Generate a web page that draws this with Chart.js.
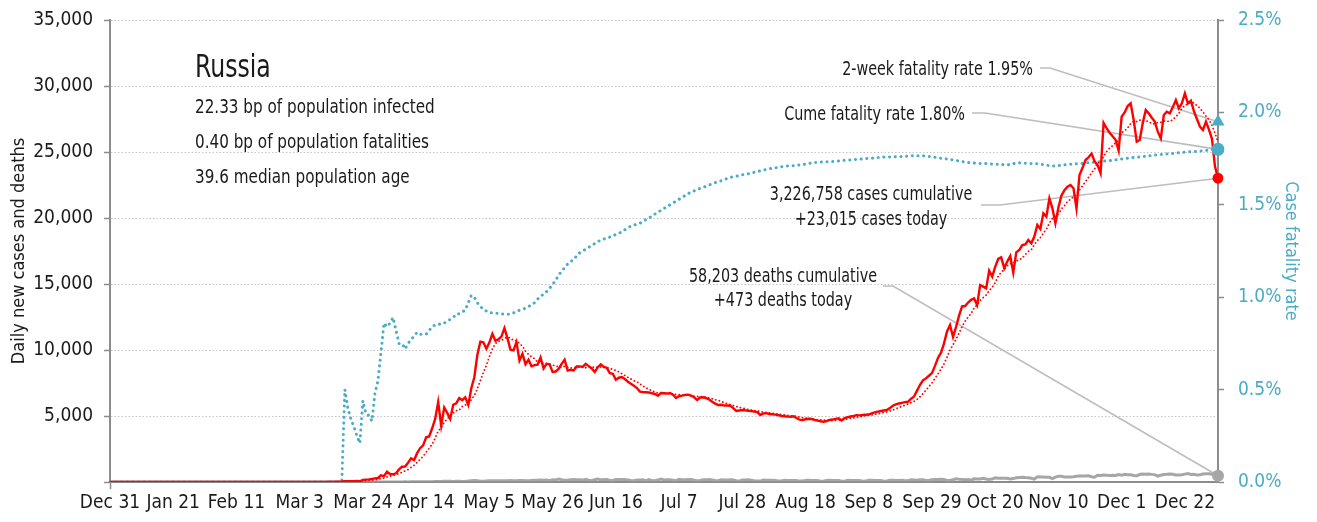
<!DOCTYPE html>
<html lang="en">
<head>
<meta charset="UTF-8">
<title>Russia</title>
<script src="https://cdn.jsdelivr.net/npm/chart.js"></script>
<style>
  html, body { margin: 0; padding: 0; background: #fff; }
</style>
</head>
<body>
<canvas id="chart" width="1317" height="522"></canvas>

<script>
// daily new cases, one row per month (first row starts Dec 31 2019)
const dailyCases = [
  0,0,0,0,0,0,0,0,0,0,0,0,0,0,0,0,0,0,0,0,0,0,0,0,0,0,0,0,0,0,2,0,
  0,0,0,0,0,0,0,0,0,0,0,0,0,0,0,0,0,0,0,0,0,0,0,0,0,0,0,0,0,
  1,0,0,1,6,0,3,0,3,8,6,11,14,4,30,21,33,52,54,53,61,71,57,163,182,196,228,270,302,500,440,
  771,601,582,658,954,1154,1175,1459,1786,1667,2186,2558,2774,3388,3448,4070,4785,6060,4268,5642,5236,4774,5849,5966,6361,6198,6411,5841,7099,7933,
  9623,10633,10581,10102,10559,11231,10699,10817,11012,11656,10899,10028,9974,10598,9200,9709,8926,9263,8764,8849,8894,9434,8599,8946,8915,8338,8371,8572,8952,9268,8450,
  8500,8450,8750,8760,8720,8950,8780,8600,8330,8700,8910,8720,8650,8250,8200,7750,7900,7950,7800,7600,7450,7300,7120,6850,6820,6800,6780,6720,6670,6540,
  6740,6720,6700,6740,6610,6360,6500,6540,6600,6620,6540,6420,6210,6400,6420,6360,6250,6080,5940,5830,5850,5790,5800,5780,5600,5380,5420,5450,5430,5400,5380,
  5330,5300,5080,5200,5220,5150,5130,5100,5060,5000,4980,4950,4940,4980,4850,4720,4700,4750,4790,4770,4700,4650,4600,4570,4620,4700,4730,4780,4830,4660,4850,
  4920,4960,5000,5060,5050,5080,5100,5110,5200,5280,5330,5380,5420,5450,5600,5780,5880,5950,6000,6050,6080,6300,6460,6900,7350,7700,7850,8050,8250,8800,
  9400,9800,10500,11400,11890,10980,11750,12600,13300,13330,13600,13800,13910,13400,14920,14800,14670,16000,15560,16300,16900,17020,16190,16700,17120,15860,17400,17580,17950,18000,18330,
  18080,18590,19470,19170,20350,20100,21490,20730,19600,20800,21700,22100,22370,22500,22250,20730,23260,23800,24390,24600,24880,24300,24000,23390,27200,26800,26460,26200,25910,25100,
  27680,28000,28480,28690,27420,25780,25910,27170,28180,27930,27600,27300,26540,26030,27800,28050,27930,28400,28940,28310,28690,29440,28690,28890,28100,27500,26920,26670,27300,26700,26000,
  23900,23015
];

// daily deaths, same days
const dailyDeaths = [
  0,0,0,0,0,0,0,0,0,0,0,0,0,0,0,0,0,0,0,0,0,0,0,0,0,0,0,0,0,0,0,0,
  0,0,0,0,0,0,0,0,0,0,0,0,0,0,0,0,0,0,0,0,0,0,0,0,0,0,0,0,0,
  0,0,0,0,0,0,0,0,0,0,0,0,0,0,0,0,0,0,0,0,0,0,0,0,1,0,1,1,2,0,4,
  2,8,0,4,4,9,11,2,13,18,12,11,18,24,22,28,36,41,42,48,51,57,42,60,66,47,50,72,101,108,
  96,57,58,76,86,95,88,98,104,88,94,107,96,93,113,119,94,91,115,135,127,150,139,153,92,174,161,232,181,138,138,
  162,182,178,169,144,197,134,112,171,216,174,181,194,113,119,193,194,181,184,161,109,95,153,154,176,92,188,104,93,154,
  216,147,168,168,135,104,198,173,174,186,188,134,95,111,175,167,181,150,110,95,163,154,156,161,147,96,70,147,150,161,129,
  95,85,70,144,130,129,124,119,70,77,130,119,114,109,114,68,70,121,129,122,119,112,56,66,122,128,117,112,110,57,61,
  123,119,111,112,109,57,68,125,133,120,115,120,64,79,136,124,117,119,126,90,90,162,160,141,164,169,123,117,170,185,
  186,201,186,117,115,174,239,202,197,174,186,141,244,232,232,286,222,191,219,317,286,280,283,278,229,258,320,346,366,334,320,
  282,214,389,374,378,362,353,256,368,432,439,387,379,378,395,442,456,463,456,467,401,361,507,491,524,511,496,510,491,569,
  508,589,554,550,492,481,562,599,586,613,578,560,451,508,570,580,603,587,526,524,555,596,635,567,580,523,553,611,617,624,590,
  533,473
];

// cumulative case fatality rate, percent
const fatalityRate = [
  0,0,0,0,0,0,0,0,0,0,0,0,0,0,0,0,0,0,0,0,0,0,0,0,0,0,0,0,0,0,0,0,
  0,0,0,0,0,0,0,0,0,0,0,0,0,0,0,0,0,0,0,0,0,0,0,0,0,0,0,0,0,
  0,0,0,0,0,0,0,0,0,0,0,0,0,0,0,0,0,0.50,0.40,0.34,0.30,0.25,0.21,0.44,0.37,0.36,0.33,0.48,0.55,0.70,0.86,
  0.84,0.86,0.89,0.82,0.75,0.75,0.72,0.75,0.77,0.79,0.81,0.80,0.80,0.80,0.82,0.84,0.85,0.85,0.86,0.86,0.87,0.88,0.89,0.91,0.91,0.92,0.93,0.97,1.01,1.00,
  0.97,0.95,0.935,0.925,0.916,0.915,0.913,0.913,0.91,0.908,0.907,0.91,0.915,0.92,0.93,0.935,0.94,0.95,0.958,0.97,0.99,1.00,1.02,1.03,1.048,1.07,1.09,1.12,1.14,1.16,1.18,
  1.19,1.21,1.22,1.24,1.25,1.26,1.27,1.28,1.29,1.30,1.31,1.315,1.32,1.325,1.33,1.34,1.345,1.355,1.365,1.375,1.385,1.39,1.395,1.40,1.41,1.42,1.427,1.44,1.45,1.46,
  1.47,1.48,1.49,1.50,1.51,1.52,1.53,1.54,1.55,1.56,1.57,1.575,1.583,1.589,1.595,1.60,1.607,1.613,1.62,1.625,1.63,1.636,1.642,1.648,1.652,1.655,1.658,1.662,1.665,1.668,1.672,
  1.676,1.68,1.684,1.688,1.692,1.695,1.698,1.70,1.703,1.706,1.708,1.71,1.711,1.712,1.714,1.715,1.717,1.72,1.723,1.726,1.729,1.73,1.731,1.732,1.733,1.733,1.734,1.735,1.737,1.739,1.741,
  1.742,1.743,1.745,1.746,1.747,1.748,1.75,1.751,1.752,1.754,1.755,1.757,1.758,1.758,1.759,1.759,1.76,1.76,1.761,1.762,1.764,1.765,1.766,1.766,1.766,1.765,1.764,1.762,1.76,1.757,
  1.755,1.752,1.75,1.748,1.746,1.743,1.74,1.737,1.734,1.731,1.729,1.727,1.726,1.725,1.724,1.724,1.723,1.722,1.721,1.72,1.72,1.719,1.716,1.715,1.718,1.722,1.727,1.727,1.726,1.725,1.724,
  1.724,1.723,1.722,1.72,1.718,1.715,1.712,1.71,1.711,1.712,1.714,1.716,1.718,1.72,1.721,1.722,1.723,1.724,1.726,1.728,1.729,1.731,1.733,1.734,1.736,1.737,1.739,1.741,1.743,1.745,
  1.748,1.75,1.752,1.754,1.756,1.757,1.759,1.761,1.763,1.765,1.767,1.769,1.77,1.772,1.773,1.775,1.776,1.778,1.78,1.782,1.783,1.785,1.786,1.787,1.788,1.79,1.791,1.792,1.794,1.796,1.798,
  1.799,1.80
];

const twoWeekFatality = 1.95;
const totalCases = 3226758;
const totalDeaths = 58203;
const countryName = 'Russia';
const countryFacts = [
  '22.33 bp of population infected',
  '0.40 bp of population fatalities',
  '39.6 median population age'
];

const RED = '#ff0000';
const TEAL = '#4bacc6';
const GREY = '#a6a6a6';
const INK = '#1a1a1a';
const FONT = "'DejaVu Sans Condensed', 'DejaVu Sans', sans-serif";

// date labels from Dec 31, 2019, one per day
const MONTHS = ['Jan','Feb','Mar','Apr','May','Jun','Jul','Aug','Sep','Oct','Nov','Dec'];
const dayLabels = dailyCases.map((_, i) => {
  const d = new Date(2019, 11, 31 + i);
  return MONTHS[d.getMonth()] + ' ' + d.getDate();
});
const last = dailyCases.length - 1;

// trailing 7-day average of new cases
const casesAvg = dailyCases.map((v, i) => {
  const win = dailyCases.slice(Math.max(0, i - 6), i + 1);
  return win.reduce((a, b) => a + b, 0) / win.length;
});

const onlyLast = v => dailyCases.map((_, i) => i === last ? v : null);
const fmt = n => n.toLocaleString('en-US');

// squeezed text, the font is a bit wide for these labels
function narrowText(ctx, text, x, y, sx) {
  ctx.save();
  ctx.translate(x, y);
  ctx.scale(sx, 1);
  ctx.fillText(text, 0, 0);
  ctx.restore();
}

// keep the plot top at the layout padding, not at the tick label overhang
const fixSide = width => s => {
  s.width = width;
  s.paddingTop = 0;
  s.paddingBottom = 0;
};

// notes and leader lines at the right end of the plot
const notes = {
  id: 'notes',
  beforeDatasetsDraw(chart) {
    const { ctx, scales } = chart;
    const xe = scales.x.getPixelForValue(last);
    const leaders = [
      [1040, 68, 1050, scales.y1.getPixelForValue(twoWeekFatality)],
      [972, 113, 985, scales.y1.getPixelForValue(fatalityRate[last])],
      [981, 205, 1000, scales.y.getPixelForValue(dailyCases[last])],
      [883, 286, 893, scales.y.getPixelForValue(dailyDeaths[last])]
    ];
    ctx.save();
    ctx.strokeStyle = '#bdbdbd';
    ctx.lineWidth = 1.6;
    leaders.forEach(([x0, y0, x1, ye]) => {
      ctx.beginPath();
      ctx.moveTo(x0, y0);
      ctx.lineTo(x1, y0);
      ctx.lineTo(xe, ye);
      ctx.stroke();
    });
    ctx.restore();
  },
  afterDraw(chart) {
    const { ctx } = chart;
    ctx.save();
    ctx.fillStyle = INK;
    ctx.textBaseline = 'alphabetic';

    ctx.textAlign = 'left';
    ctx.font = '32px ' + FONT;
    narrowText(ctx, countryName, 195, 77, 0.82);
    ctx.font = '19px ' + FONT;
    countryFacts.forEach((t, i) => narrowText(ctx, t, 195, 113 + i * 35, 0.89));

    const sq = 0.84;
    ctx.textAlign = 'right';
    narrowText(ctx, '2-week fatality rate ' + twoWeekFatality.toFixed(2) + '%', 1033, 75, sq);
    narrowText(ctx, 'Cume fatality rate ' + fatalityRate[last].toFixed(2) + '%', 965, 120, sq);

    ctx.textAlign = 'center';
    narrowText(ctx, fmt(totalCases) + ' cases cumulative', 871, 200, sq);
    narrowText(ctx, '+' + fmt(dailyCases[last]) + ' cases today', 871, 225, sq);
    narrowText(ctx, fmt(totalDeaths) + ' deaths cumulative', 783, 282, sq);
    narrowText(ctx, '+' + fmt(dailyDeaths[last]) + ' deaths today', 783, 306, sq);
    ctx.restore();
  }
};

Chart.defaults.font.family = FONT;
Chart.defaults.color = INK;

new Chart(document.getElementById('chart'), {
  type: 'line',
  data: {
    labels: dayLabels,
    datasets: [
      {
        label: '2-week fatality rate', data: onlyLast(twoWeekFatality), yAxisID: 'y1', order: 0,
        showLine: false, pointStyle: 'triangle', pointRadius: 7.5, pointBorderWidth: 0,
        pointBackgroundColor: TEAL
      },
      {
        label: 'Cume fatality rate', data: onlyLast(fatalityRate[last]), yAxisID: 'y1', order: 0,
        showLine: false, pointRadius: 6.5, pointBorderWidth: 0, pointBackgroundColor: TEAL
      },
      {
        label: 'Cases today', data: onlyLast(dailyCases[last]), yAxisID: 'y', order: 0,
        showLine: false, pointRadius: 5.5, pointBorderWidth: 0, pointBackgroundColor: RED
      },
      {
        label: 'Deaths today', data: onlyLast(dailyDeaths[last]), yAxisID: 'y', order: 0,
        showLine: false, pointRadius: 6, pointBorderWidth: 0, pointBackgroundColor: GREY
      },
      {
        label: 'Daily new cases', data: dailyCases, yAxisID: 'y', order: 1,
        borderColor: RED, borderWidth: 2.4, pointRadius: 0, tension: 0
      },
      {
        label: '7-day average', data: casesAvg, yAxisID: 'y', order: 2,
        borderColor: RED, borderWidth: 1.8, borderDash: [0.1, 3.6], borderCapStyle: 'round',
        pointRadius: 0
      },
      {
        label: 'Case fatality rate', data: fatalityRate, yAxisID: 'y1', order: 3,
        borderColor: TEAL, borderWidth: 3, borderDash: [0.1, 5.6], borderCapStyle: 'round',
        pointRadius: 0
      },
      {
        label: 'Daily deaths', data: dailyDeaths, yAxisID: 'y', order: 4,
        borderColor: 'rgba(150,150,150,0.85)', borderWidth: 3, pointRadius: 0
      }
    ]
  },
  options: {
    responsive: false,
    animation: false,
    layout: { padding: { top: 20, right: 0, bottom: 0, left: 0 } },
    plugins: { legend: { display: false }, tooltip: { enabled: false } },
    scales: {
      x: {
        offset: false,
        grid: {
          drawOnChartArea: false,
          tickLength: 7,
          tickWidth: 1.5,
          tickColor: c => c.index % 21 === 0 ? '#8c8c8c' : 'rgba(0,0,0,0)'
        },
        border: { color: '#8c8c8c', width: 2 },
        ticks: {
          autoSkip: false, maxRotation: 0, padding: 3, color: INK,
          font: { size: 19 },
          callback: (v, i) => i % 21 === 0 ? dayLabels[i] : null
        },
        afterFit: s => { s.height = 40; }
      },
      y: {
        position: 'left', min: 0, max: 35000,
        grid: { color: '#c4c4c4', lineWidth: 1, tickLength: 6, tickWidth: 1.5, tickColor: '#8c8c8c' },
        border: { color: '#8c8c8c', width: 2, dash: [1.5, 2] },
        ticks: {
          stepSize: 5000, padding: 11, color: INK, font: { size: 19 },
          callback: v => v === 0 ? '' : fmt(v)
        },
        title: {
          display: true, text: 'Daily new cases and deaths', color: INK,
          font: { size: 18 }, padding: { top: 9, bottom: 0 }
        },
        afterFit: fixSide(110)
      },
      y1: {
        position: 'right', min: 0, max: 2.5,
        grid: { drawOnChartArea: false, tickLength: 6, tickWidth: 1.5, tickColor: '#8c8c8c' },
        border: { color: '#8c8c8c', width: 2 },
        ticks: {
          stepSize: 0.5, padding: 14, color: TEAL, font: { size: 19 },
          callback: v => v.toFixed(1) + '%'
        },
        title: {
          display: true, text: 'Case fatality rate', color: TEAL,
          font: { size: 18 }, padding: { top: 16, bottom: 0 }
        },
        afterFit: fixSide(99)
      }
    }
  },
  plugins: [notes]
});
</script>
</body>
</html>
